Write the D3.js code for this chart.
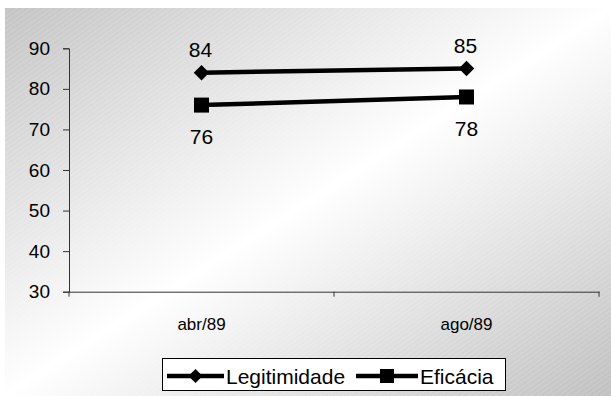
<!DOCTYPE html>
<html><head><meta charset="utf-8">
<script src="https://cdn.jsdelivr.net/npm/d3@7"></script>
<style>body{margin:0;background:#fff}svg{display:block}text{font-family:Arial,"Liberation Sans",sans-serif;fill:#000}</style>
</head><body>
<script>
const categories = ["abr/89", "ago/89"];
const legitimidade = [84, 85];
const eficacia = [76, 78];
const yTicks = [30, 40, 50, 60, 70, 80, 90];
const seriesNames = ["Legitimidade", "Eficácia"];

const W = 611, H = 396;
const svg = d3.select("body").append("svg").attr("width", W).attr("height", H);
const defs = svg.append("defs");
const g = defs.append("linearGradient").attr("id", "bg").attr("x1", 0).attr("y1", 0).attr("x2", 1).attr("y2", 1);
g.append("stop").attr("offset", 0).attr("stop-color", "#c4c4c4");
g.append("stop").attr("offset", 0.5).attr("stop-color", "#ffffff");
g.append("stop").attr("offset", 1).attr("stop-color", "#c0c0c0");
const pat = defs.append("pattern").attr("id", "hatch").attr("width", 4).attr("height", 4)
  .attr("patternUnits", "userSpaceOnUse").attr("patternTransform", "rotate(-35)");
pat.append("line").attr("x1", 0).attr("y1", 0).attr("x2", 4).attr("y2", 0)
  .attr("stroke", "#ffffff").attr("stroke-width", 1).attr("stroke-opacity", 0.3);

svg.append("rect").attr("x", 5).attr("y", 8).attr("width", W - 5).attr("height", H - 8).attr("fill", "url(#bg)");
svg.append("rect").attr("x", 5).attr("y", 8).attr("width", W - 5).attr("height", H - 8).attr("fill", "url(#hatch)");

const x0 = 69, x1 = 599, yTop = 48.3, yBot = 291.7;
const x = d3.scaleBand().domain(categories).range([x0, x1]);
const y = d3.scaleLinear().domain([30, 90]).range([yBot, yTop]);

// Y axis
const yAxis = svg.append("g").attr("transform", `translate(${x0},0)`)
  .call(d3.axisLeft(y).tickValues(yTicks).tickSize(6).tickPadding(13));
yAxis.selectAll("path,line").attr("stroke", "#333");
yAxis.selectAll("text").style("font-size", "19px").attr("fill", "#000").attr("font-family", "Arial, 'Liberation Sans', sans-serif");

// X axis
const xAxis = svg.append("g").attr("transform", `translate(0,${yBot})`)
  .call(d3.axisBottom(x).tickSize(0).tickPadding(26));
xAxis.select(".domain").attr("stroke", "#333");
xAxis.selectAll("text").style("font-size", "17px").attr("fill", "#000").attr("font-family", "Arial, 'Liberation Sans', sans-serif");
const bounds = categories.map(c => x(c)).concat([x(categories[categories.length - 1]) + x.bandwidth()]);
svg.append("g").selectAll("line").data(bounds).join("line")
  .attr("x1", d => d).attr("x2", d => d).attr("y1", yBot).attr("y2", yBot + 5)
  .attr("stroke", "#333");

const cx = c => x(c) + x.bandwidth() / 2;
const line = d3.line().x((d, i) => cx(categories[i])).y(d => y(d));

svg.append("path").attr("d", line(legitimidade)).attr("fill", "none").attr("stroke", "#000").attr("stroke-width", 4.5);
svg.append("path").attr("d", line(eficacia)).attr("fill", "none").attr("stroke", "#000").attr("stroke-width", 4.5);

svg.append("g").selectAll("path").data(legitimidade).join("path")
  .attr("d", d3.symbol().type(d3.symbolSquare).size(120))
  .attr("transform", (d, i) => `translate(${cx(categories[i])},${y(d)}) rotate(45)`)
  .attr("fill", "#000");
svg.append("g").selectAll("rect").data(eficacia).join("rect")
  .attr("x", (d, i) => cx(categories[i]) - 7.5).attr("y", d => y(d) - 7.5)
  .attr("width", 15).attr("height", 15).attr("fill", "#000");

svg.append("g").selectAll("text").data(legitimidade).join("text")
  .attr("x", (d, i) => cx(categories[i]) - 1).attr("y", d => y(d) - 16)
  .attr("text-anchor", "middle").style("font-size", "21px").text(d => d);
svg.append("g").selectAll("text").data(eficacia).join("text")
  .attr("x", (d, i) => cx(categories[i])).attr("y", d => y(d) + 39)
  .attr("text-anchor", "middle").style("font-size", "21px").text(d => d);

// Legend
const lg = svg.append("g");
lg.append("rect").attr("x", 162.5).attr("y", 358.5).attr("width", 343).attr("height", 32)
  .attr("fill", "#fff").attr("stroke", "#000").attr("stroke-width", 1);
const items = [{ name: seriesNames[0], x: 167, t: 226, sym: "d" }, { name: seriesNames[1], x: 356, t: 420, sym: "s" }];
items.forEach(it => {
  const ly = 376;
  const lx2 = it.sym === "d" ? 224 : 418;
  lg.append("line").attr("x1", it.x).attr("x2", lx2).attr("y1", ly).attr("y2", ly).attr("stroke", "#000").attr("stroke-width", 4.5);
  const mx = (it.x + lx2) / 2;
  if (it.sym === "d") {
    lg.append("path").attr("d", d3.symbol().type(d3.symbolSquare).size(100)).attr("transform", `translate(${mx},${ly}) rotate(45)`).attr("fill", "#000");
  } else {
    lg.append("rect").attr("x", mx - 7).attr("y", ly - 7).attr("width", 14).attr("height", 14).attr("fill", "#000");
  }
  lg.append("text").attr("x", it.t).attr("y", ly + 7.5).style("font-size", "21px").text(it.name);
});
</script>
</body></html>
